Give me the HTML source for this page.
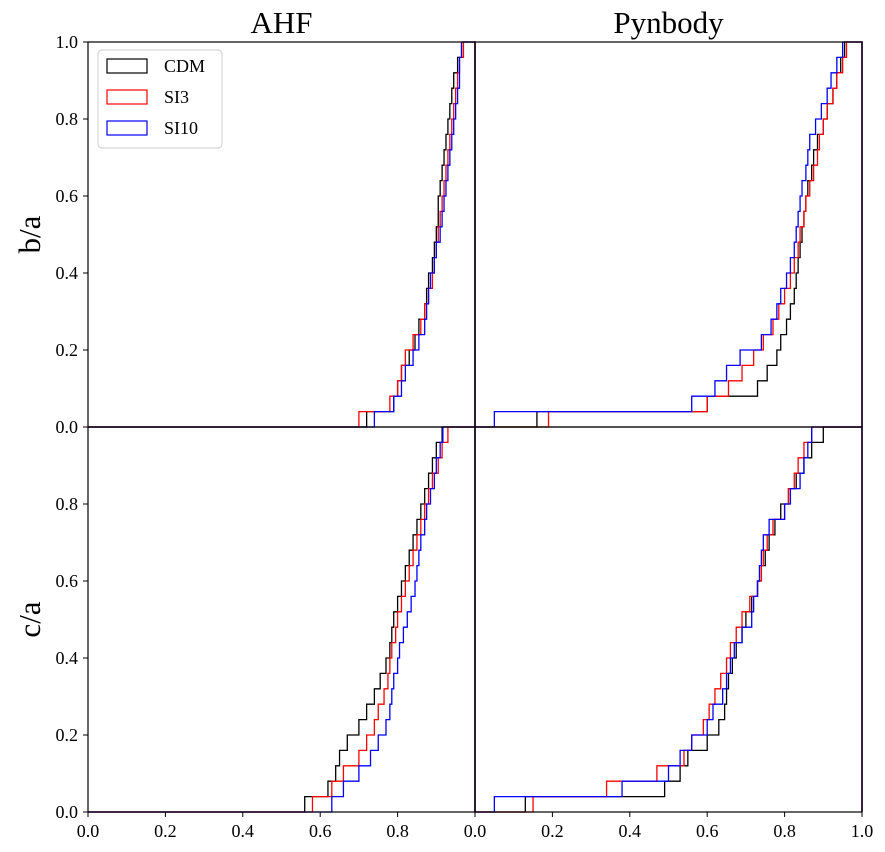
<!DOCTYPE html>
<html><head><meta charset="utf-8"><style>
body{margin:0;background:#fff}
svg{display:block;font-family:"Liberation Serif",serif}
</style></head><body>
<svg id="c" width="885" height="852"></svg>
<script>
const series = ["CDM","SI3","SI10"];
const colors = ["#000","#f00","#00f"];
const xTicks = [0,0.2,0.4,0.6,0.8,1.0];
const yTicks = [0,0.2,0.4,0.6,0.8,1.0];
const colTitles = ["AHF","Pynbody"];
const rowLabels = ["b/a","c/a"];
const ahfBaCDM = [0.72,0.79,0.80,0.81,0.83,0.845,0.855,0.87,0.875,0.88,0.89,0.895,0.90,0.905,0.905,0.91,0.915,0.92,0.925,0.93,0.935,0.94,0.945,0.955,0.97];
const ahfBaSI3 = [0.70,0.78,0.80,0.81,0.82,0.84,0.86,0.87,0.88,0.89,0.895,0.90,0.905,0.91,0.915,0.92,0.925,0.93,0.935,0.94,0.945,0.95,0.955,0.96,0.97];
const ahfBaSI10 = [0.74,0.79,0.81,0.82,0.84,0.855,0.87,0.875,0.88,0.885,0.895,0.90,0.91,0.915,0.92,0.925,0.93,0.935,0.94,0.945,0.95,0.955,0.96,0.96,0.965];
const pynBaCDM = [0.16,0.60,0.73,0.755,0.78,0.79,0.805,0.815,0.825,0.83,0.835,0.84,0.845,0.85,0.855,0.86,0.87,0.875,0.885,0.90,0.91,0.925,0.935,0.945,0.955];
const pynBaSI3 = [0.19,0.60,0.655,0.69,0.72,0.745,0.77,0.785,0.80,0.815,0.825,0.835,0.84,0.85,0.855,0.865,0.875,0.885,0.89,0.90,0.91,0.925,0.935,0.95,0.96];
const pynBaSI10 = [0.05,0.56,0.62,0.65,0.685,0.74,0.765,0.78,0.79,0.805,0.815,0.825,0.83,0.835,0.84,0.845,0.855,0.86,0.865,0.88,0.895,0.91,0.92,0.935,0.95];
const ahfCaCDM = [0.56,0.62,0.64,0.65,0.67,0.70,0.72,0.74,0.755,0.77,0.78,0.785,0.79,0.80,0.81,0.82,0.83,0.84,0.85,0.86,0.87,0.88,0.89,0.90,0.915];
const ahfCaSI3 = [0.58,0.63,0.66,0.70,0.72,0.74,0.75,0.765,0.775,0.78,0.785,0.795,0.80,0.81,0.82,0.83,0.84,0.85,0.86,0.87,0.88,0.89,0.905,0.915,0.93];
const ahfCaSI10 = [0.63,0.66,0.70,0.73,0.75,0.77,0.78,0.785,0.79,0.80,0.805,0.815,0.825,0.835,0.845,0.85,0.855,0.86,0.87,0.875,0.885,0.895,0.90,0.91,0.917];
const pynCaCDM = [0.13,0.49,0.53,0.55,0.60,0.63,0.645,0.65,0.655,0.665,0.675,0.69,0.70,0.715,0.73,0.74,0.75,0.76,0.775,0.79,0.81,0.83,0.85,0.87,0.90];
const pynCaSI3 = [0.15,0.34,0.47,0.54,0.56,0.59,0.605,0.62,0.635,0.65,0.66,0.675,0.69,0.71,0.73,0.74,0.745,0.755,0.77,0.80,0.81,0.825,0.835,0.85,0.87];
const pynCaSI10 = [0.05,0.38,0.50,0.53,0.56,0.60,0.615,0.64,0.65,0.66,0.67,0.69,0.715,0.72,0.73,0.735,0.74,0.745,0.76,0.80,0.815,0.84,0.85,0.86,0.87];
const panels = [[[ahfBaCDM,ahfBaSI3,ahfBaSI10],[pynBaCDM,pynBaSI3,pynBaSI10]],
                [[ahfCaCDM,ahfCaSI3,ahfCaSI10],[pynCaCDM,pynCaSI3,pynCaSI10]]];

const NS="http://www.w3.org/2000/svg";
const svg=document.getElementById('c');
const L=88,T=42,W=387,H=385;
function mk(t,a,p){const e=document.createElementNS(NS,t);for(const k in a)e.setAttribute(k,a[k]);(p||svg).appendChild(e);return e;}
function xs(c,v){return L+c*W+v*W;}
function ys(r,v){return T+(r+1)*H-v*H;}

for(let r=0;r<2;r++)for(let c=0;c<2;c++){
  const g=mk('g',{});
  
  
  panels[r][c].forEach((d,si)=>{
    const s=d.slice().sort((a,b)=>a-b),n=s.length;
    let p='M'+xs(c,0)+','+ys(r,0)+' H'+xs(c,s[0]);
    s.forEach((v,i)=>{p+=' H'+xs(c,v)+' V'+ys(r,(i+1)/n);});
    p+=' H'+xs(c,1)+' V'+ys(r,0);
    const e=mk('path',{d:p,fill:'none',stroke:colors[si],'stroke-width':1.3},g);
    
    
  });
  const fr=mk('rect',{x:xs(c,0),y:ys(r,1),width:W,height:H,fill:'none',stroke:'#000','stroke-width':1.2},g);
  
  
}
for(let c=0;c<2;c++)xTicks.forEach(v=>{
  if(c==0&&v==1)return;
  const x=xs(c,v);
  mk('line',{x1:x,y1:812,x2:x,y2:817,stroke:'#000'});
  const t=mk('text',{x:x,y:837,'text-anchor':'middle','font-size':18});
  t.textContent=v.toFixed(1);
  
  
});
for(let r=0;r<2;r++)yTicks.forEach(v=>{
  if(r==1&&v==1)return;
  const y=ys(r,v);
  mk('line',{x1:83,y1:y,x2:88,y2:y,stroke:'#000'});
  const t=mk('text',{x:78,y:y+6,'text-anchor':'end','font-size':18});
  t.textContent=v.toFixed(1);
  
  
});
colTitles.forEach((s,c)=>{
  const t=mk('text',{x:xs(c,0.5),y:33,'text-anchor':'middle','font-size':31});
  t.textContent=s;
  
  
});
rowLabels.forEach((s,r)=>{
  const y=ys(r,0.5);
  const t=mk('text',{x:0,y:0,'text-anchor':'middle','font-size':31,transform:'translate(40,'+y+') rotate(-90)'});
  t.textContent=s;
  
  
});
const lg=mk('g',{});


mk('rect',{x:98,y:50,width:124,height:98,rx:4,fill:'#fff',stroke:'#ccc'},lg);
series.forEach((s,i)=>{
  const y=59+i*31;
  const sw=mk('rect',{x:107,y:y,width:40,height:14,fill:'none',stroke:colors[i],'stroke-width':1.2},lg);
  
  
  const t=mk('text',{x:164,y:y+13,'font-size':18},lg);
  t.textContent=s;
  
  
});
</script>
</body></html>
